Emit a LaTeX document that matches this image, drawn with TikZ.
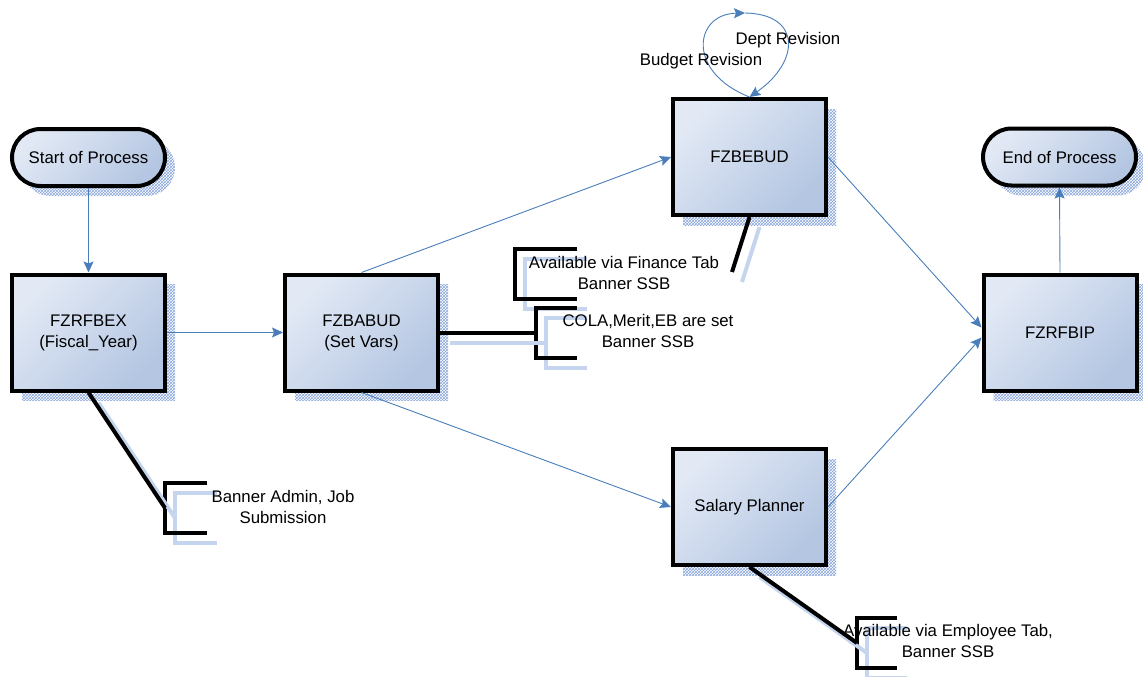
\documentclass[tikz,border=0pt]{standalone}
\usepackage{fontspec}
\setmainfont{Liberation Sans}
\usetikzlibrary{arrows.meta,shapes.misc,shadows,patterns}
\definecolor{flowblue}{RGB}{74,126,187}
\definecolor{boxlight}{RGB}{226,233,245}
\definecolor{boxdark}{RGB}{180,198,226}
\definecolor{hatchblue}{RGB}{135,165,218}
\definecolor{edgeshade}{RGB}{198,213,238}

\begin{document}
\begin{tikzpicture}[x=1pt, y=-1pt, font=\fontsize{16.8}{21}\selectfont]
    % Style definitions
    \tikzset{
      boxshadow/.style={general shadow={shadow xshift=10pt, shadow yshift=-10pt,
        pattern=crosshatch, pattern color=hatchblue}},
      proc/.style={rectangle, draw=black, line width=4pt, boxshadow,
        top color=boxlight, bottom color=boxdark, shading angle=45,
        minimum width=153pt, minimum height=116pt, align=center, inner sep=0pt},
      term/.style={proc, rounded rectangle, minimum height=57pt},
      flow/.style={draw=flowblue, line width=0.9pt,
        -{Stealth[length=11pt, width=10pt, inset=2pt]}},
      link/.style={draw=black, line width=4pt},
      linkshadow/.style={draw=edgeshade, line width=4pt,
        transform canvas={shift={(10pt,-10pt)}}},
      note/.style={align=center, inner sep=0pt},
      lbl/.style={inner sep=0pt},
    }
    % ------------------------------------------------------------------
    % Helper macro: annotation bracket named #1 whose spine has its
    % middle at (#2,#3), with arms #4 long (shadow drawn first)
    % ------------------------------------------------------------------
    \newcommand{\notebracket}[4]{%
      \begin{scope}[shift={(#2,#3)}]
        \coordinate (#1) at (0,0);
        \draw[linkshadow] (#4,-25) -- (0,-25) -- (0,25) -- (#4,25);
        \draw[link] (#4,-25) -- (0,-25) -- (0,25) -- (#4,25);
      \end{scope}%
    }

    \useasboundingbox (0,0) rectangle (1143,677);

    % Annotation brackets
    \notebracket{bexnote}{165}{508}{42}
    \notebracket{ebnote}{515}{273.5}{62}
    \notebracket{babnote}{536}{332.5}{41}
    \notebracket{salnote}{857}{643}{40}
    \coordinate (ebtail) at (732,272);

    % Process steps
    \node[term] (start) at (88.5,157.5) {Start of Process};
    \node[proc] (fzrfbex) at (88.5,332.5) {FZRFBEX\\(Fiscal\_Year)};
    \node[proc] (fzbabud) at (361.5,332.5) {FZBABUD\\(Set Vars)};
    \node[proc] (fzbebud) at (749.5,157) {FZBEBUD};
    \node[proc] (salary) at (749.5,507) {Salary Planner};
    \node[proc] (fzrfbip) at (1060,332.5) {FZRFBIP};
    \node[term] (endproc) at (1059.5,157) {End of Process};

    % Links from the steps to their notes
    \draw[linkshadow] (fzrfbex.south) -- (bexnote);
    \draw[linkshadow] (fzbabud.east) -- (babnote);
    \draw[linkshadow] (fzbebud.south) -- (ebtail);
    \draw[linkshadow] (salary.south) -- (salnote);
    \draw[link] (fzrfbex.south) -- (bexnote);
    \draw[link] (fzbabud.east) -- (babnote);
    \draw[link] (fzbebud.south) -- (ebtail);
    \draw[link] (salary.south) -- (salnote);

    % Note texts
    \node[note] (bextext) at (283,507) {Banner Admin, Job\\Submission};
    \node[note] (ebtext) at (624,273) {Available via Finance Tab\\Banner SSB};
    \node[note] (babtext) at (648,331) {COLA,Merit,EB are set\\Banner SSB};
    \node[note] (saltext) at (948,641) {Available via Employee Tab,\\Banner SSB};

    % Process flow
    \draw[flow] (start.south) -- (fzrfbex.north);
    \draw[flow] (fzrfbex.east) -- (fzbabud.west);
    \draw[flow] (fzbabud.north) -- (fzbebud.west);
    \draw[flow] (fzbabud.south) -- (salary.west);
    \draw[flow] (fzbebud.east) -- ([yshift=5pt]fzrfbip.west);
    \draw[flow] (salary.east) -- ([yshift=-5pt]fzrfbip.west);
    \draw[flow] (fzrfbip.north) -- (endproc.south);

    % Revision loop on FZBEBUD
    \coordinate (loopcrest) at (745,13);
    \draw[flow] (fzbebud.north) .. controls (686,72) and (694,14) .. (loopcrest);
    \draw[flow] (loopcrest) .. controls (802,14) and (800,62) .. (fzbebud.north);
    \node[lbl] (deptrev) at (788,40) {Dept Revision};
    \node[lbl] (budrev) at (701,61) {Budget Revision};
  \end{tikzpicture}
\end{document}
